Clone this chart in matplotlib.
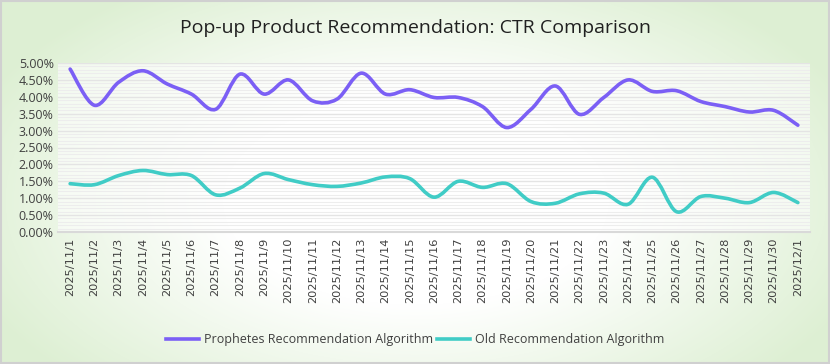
import numpy as np
import matplotlib
matplotlib.use("Agg")
import matplotlib.pyplot as plt
from matplotlib.path import Path
from matplotlib.patches import PathPatch
from matplotlib.lines import Line2D
from matplotlib.ticker import FuncFormatter, MultipleLocator

dates = [f"2025/11/{d}" for d in range(1, 31)] + ["2025/12/1"]
prophetes = [4.82, 3.75, 4.43, 4.77, 4.38, 4.08, 3.63, 4.67, 4.08, 4.50,
             3.88, 3.93, 4.70, 4.08, 4.21, 3.98, 3.98, 3.71, 3.09, 3.63,
             4.32, 3.48, 3.98, 4.50, 4.16, 4.18, 3.86, 3.71, 3.55, 3.60, 3.16]
old_algo = [1.43, 1.40, 1.67, 1.82, 1.70, 1.67, 1.10, 1.30, 1.73, 1.55,
            1.40, 1.35, 1.45, 1.63, 1.58, 1.03, 1.50, 1.32, 1.43, 0.90,
            0.85, 1.13, 1.15, 0.82, 1.62, 0.60, 1.05, 1.00, 0.87, 1.17, 0.87]
series_names = ["Prophetes Recommendation Algorithm", "Old Recommendation Algorithm"]
title = "Pop-up Product Recommendation: CTR Comparison"

PURPLE = "#7B5FF5"
CYAN = "#40CCC6"

narrow = ["Liberation Sans Narrow", "Open Sans", "DejaVu Sans"]

fig = plt.figure(figsize=(8.3, 3.64), dpi=100)

# background radial gradient
bg = fig.add_axes([0, 0, 1, 1], zorder=-10)
yy, xx = np.mgrid[0:364, 0:830]
r = np.sqrt(((xx - 415) / 460.0) ** 2 + ((yy - 200) / 250.0) ** 2)
t = np.clip((r - 0.42) / 0.6, 0, 1)
white = np.array([1.0, 1.0, 1.0])
green = np.array([0.87, 0.94, 0.83])
img = white[None, None, :] * (1 - t[..., None]) + green[None, None, :] * t[..., None]
bg.imshow(img, aspect="auto", extent=[0, 1, 0, 1], origin="upper")
bg.set_axis_off()
bg.add_patch(plt.Rectangle((0.001, 0.002), 0.998, 0.995, fill=False,
                           edgecolor="#d0d0d0", lw=1.5, transform=bg.transAxes))

ax = fig.add_axes([58 / 830, (364 - 232) / 364, (810 - 58) / 830, (232 - 63) / 364])
ax.set_facecolor((1, 1, 1, 0.6))

x = np.arange(len(dates))


def smooth_path(xs, ys):
    pts = np.column_stack([xs, ys]).astype(float)
    verts = [pts[0]]
    codes = [Path.MOVETO]
    n = len(pts)
    for i in range(n - 1):
        p0 = pts[i - 1] if i > 0 else pts[i]
        p1 = pts[i]
        p2 = pts[i + 1]
        p3 = pts[i + 2] if i + 2 < n else pts[i + 1]
        c1 = p1 + (p2 - p0) / 6.0
        c2 = p2 - (p3 - p1) / 6.0
        verts += [c1, c2, p2]
        codes += [Path.CURVE4] * 3
    return Path(verts, codes)


for vals, col in [(prophetes, PURPLE), (old_algo, CYAN)]:
    p = smooth_path(x, np.array(vals) / 100.0)
    ax.add_patch(PathPatch(p, facecolor="none", edgecolor=col, lw=2.6,
                           capstyle="round", joinstyle="round", zorder=3))

ax.set_xlim(-0.5, len(dates) - 0.5)
ax.set_ylim(0, 0.05)
ax.yaxis.set_major_locator(MultipleLocator(0.005))
ax.yaxis.set_minor_locator(MultipleLocator(0.001))
ax.yaxis.set_major_formatter(FuncFormatter(lambda v, _: f"{v*100:.2f}%"))
ax.grid(True, which="major", axis="y", color="#e4e4e4", lw=1.0)
ax.grid(True, which="minor", axis="y", color="#ededed", lw=0.8)
ax.set_axisbelow(True)
ax.set_xticks(x)
ax.set_xticklabels(dates, rotation=90, fontsize=8.2, color="#404040",
                   family="DejaVu Sans")
for lab in ax.get_yticklabels():
    lab.set_fontsize(9)
    lab.set_color("#404040")
    lab.set_family(narrow)
ax.tick_params(axis="both", length=0, pad=3)
ax.tick_params(axis="x", pad=4)
ax.tick_params(axis="y", which="minor", length=0)
for s in ["top", "right", "left"]:
    ax.spines[s].set_visible(False)
ax.spines["bottom"].set_color("#d9d9d9")
ax.spines["bottom"].set_linewidth(1.5)

fig.text(0.5, 0.922, title, ha="center", va="center", fontsize=14,
         color="#202020", family=narrow)

handles = [Line2D([], [], color=PURPLE, lw=2.6), Line2D([], [], color=CYAN, lw=2.6)]
fig.legend(handles, series_names, loc="center", bbox_to_anchor=(0.5, 0.066),
           ncol=2, frameon=False, prop={"family": narrow, "size": 9},
           handlelength=2.65, handletextpad=0.35, columnspacing=0.35,
           labelcolor="#404040")

fig.savefig("out.png", dpi=100)
